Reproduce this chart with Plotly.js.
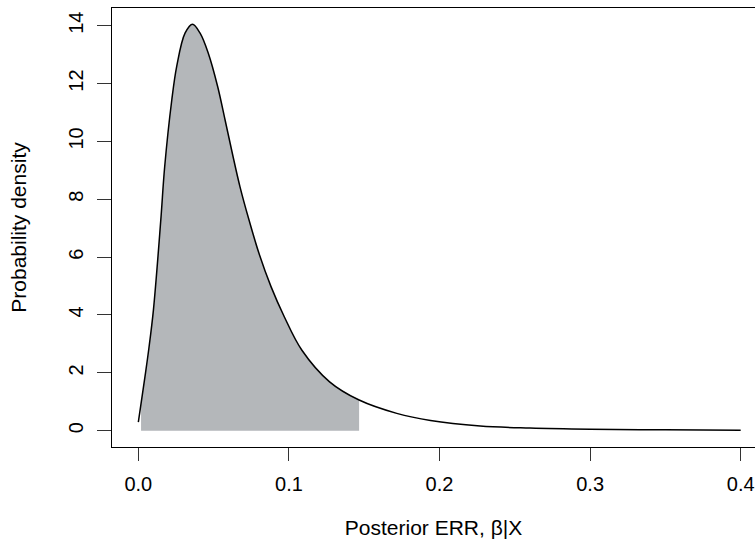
<!DOCTYPE html>
<html>
<head>
<meta charset="utf-8">
<script src="https://cdn.plot.ly/plotly-3.0.1.min.js"></script>
<style>html,body{margin:0;padding:0;background:#fff;}</style>
</head>
<body>
<div id="chart" style="width:755px;height:546px;"></div>
<script>
// Posterior density curve
const curveX = [0, 0.0044, 0.007, 0.010, 0.0149, 0.0175, 0.0222, 0.0255, 0.031, 0.036, 0.041, 0.0465, 0.0527, 0.0576, 0.0624, 0.0675, 0.0735, 0.0801, 0.0881, 0.0969, 0.1085, 0.127, 0.1466, 0.1716, 0.194, 0.227, 0.26, 0.30, 0.35, 0.40];
const curveY = [0.30, 1.87, 2.85, 4.17, 7.28, 9.13, 11.43, 12.6, 13.74, 14.05, 13.74, 13.04, 11.89, 10.74, 9.59, 8.43, 7.28, 6.13, 4.98, 3.94, 2.79, 1.69, 1.06, 0.60, 0.35, 0.16, 0.09, 0.05, 0.03, 0.02];
// Shaded interval
const shadeLow = 0.0018;
const shadeHigh = 0.1466;
const xTicks = [0, 0.1, 0.2, 0.3, 0.4];
const yTicks = [0, 2, 4, 6, 8, 10, 12, 14];

// interpolate curve value at the interval ends
function interp(x){
  for (let i=0;i<curveX.length-1;i++){
    if (x>=curveX[i] && x<=curveX[i+1]){
      const t=(x-curveX[i])/(curveX[i+1]-curveX[i]);
      return curveY[i]+t*(curveY[i+1]-curveY[i]);
    }
  }
  return 0;
}
const shadeX=[shadeLow], shadeY=[interp(shadeLow)];
curveX.forEach((x,i)=>{ if(x>shadeLow && x<shadeHigh){shadeX.push(x);shadeY.push(curveY[i]);} });
shadeX.push(shadeHigh); shadeY.push(interp(shadeHigh));

const family = 'Liberation Sans, Arial, Helvetica, sans-serif';
const titleFont = {family: family, size: 21, color: '#000'};
const tickFont = {family: family, size: 20, color: '#000'};

const traces = [
  {x: shadeX, y: shadeY, type: 'scatter', mode: 'lines', fill: 'tozeroy',
   fillcolor: '#b4b7ba', line: {width: 0, shape: 'spline', color: '#b4b7ba'}, hoverinfo: 'skip'},
  {x: curveX, y: curveY, type: 'scatter', mode: 'lines',
   line: {color: '#000', width: 1.5, shape: 'spline', smoothing: 1}}
];

const layout = {
  width: 755, height: 546,
  margin: {l: 112, r: 0, t: 8, b: 99},
  paper_bgcolor: '#fff', plot_bgcolor: '#fff',
  showlegend: false,
  font: tickFont,
  xaxis: {
    range: [-0.0175, 0.4095], tickvals: xTicks, ticktext: xTicks.map(v=>v.toFixed(1)),
    tickfont: tickFont,
    showgrid: false, zeroline: false, showline: true, mirror: true, linecolor: '#000', linewidth: 1.3,
    ticks: 'outside', ticklen: 13, tickwidth: 1, tickcolor: '#333',
    ticklabelstandoff: 6,
    title: {text: 'Posterior ERR, β|X', font: titleFont, standoff: 26}
  },
  yaxis: {
    range: [-0.563, 14.61], tickvals: yTicks,
    tickfont: tickFont,
    showgrid: false, zeroline: false, showline: true, mirror: true, linecolor: '#000', linewidth: 1.3,
    ticks: 'outside', ticklen: 14, tickwidth: 1, tickcolor: '#333', tickangle: -90,
    ticklabelstandoff: 6,
    title: {text: 'Probability density', font: titleFont, standoff: 32}
  }
};
Plotly.newPlot('chart', traces, layout, {displayModeBar: false, staticPlot: true});
</script>
</body>
</html>
